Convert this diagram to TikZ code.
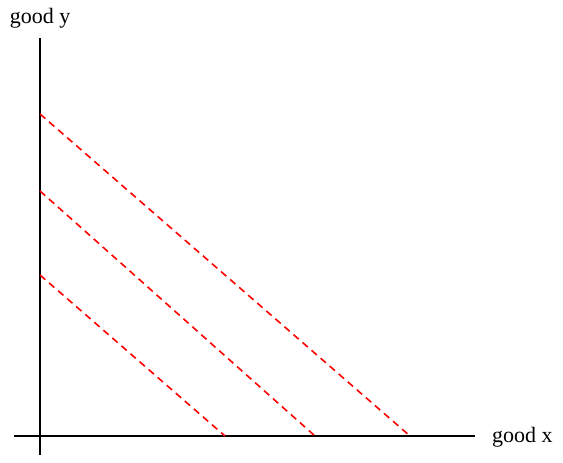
\documentclass[tikz,border=0pt]{standalone}
\usepackage{fontspec}
\setmainfont{Liberation Serif}
\begin{document}
\begin{tikzpicture}[x=1pt,y=-1pt,
  axis/.style={black,line width=2pt},
  budget/.style={red,line width=1.6pt,dash pattern=on 7pt off 5pt},
  lbl/.style={font=\fontsize{22}{25}\selectfont,inner sep=0pt}]
\useasboundingbox (0,0) rectangle (563,463);
\coordinate (ytop) at (40,38);
\coordinate (ybot) at (40,455);
\coordinate (xl) at (14,436);
\coordinate (xr) at (475,436);
\draw[axis] (ytop) -- (ybot);
\draw[axis] (xl) -- (xr);
\node[lbl] (gy) at (40,18) {good y};
\node[lbl,anchor=west] (gx) at (492,437) {good x};
\coordinate (a1) at (40,114);
\coordinate (b1) at (410,436);
\coordinate (a2) at (40,191);
\coordinate (b2) at (315,436);
\coordinate (a3) at (40,275);
\coordinate (b3) at (225,436);
\draw[budget] (a1) -- (b1);
\draw[budget] (a2) -- (b2);
\draw[budget] (a3) -- (b3);
\end{tikzpicture}
\end{document}
